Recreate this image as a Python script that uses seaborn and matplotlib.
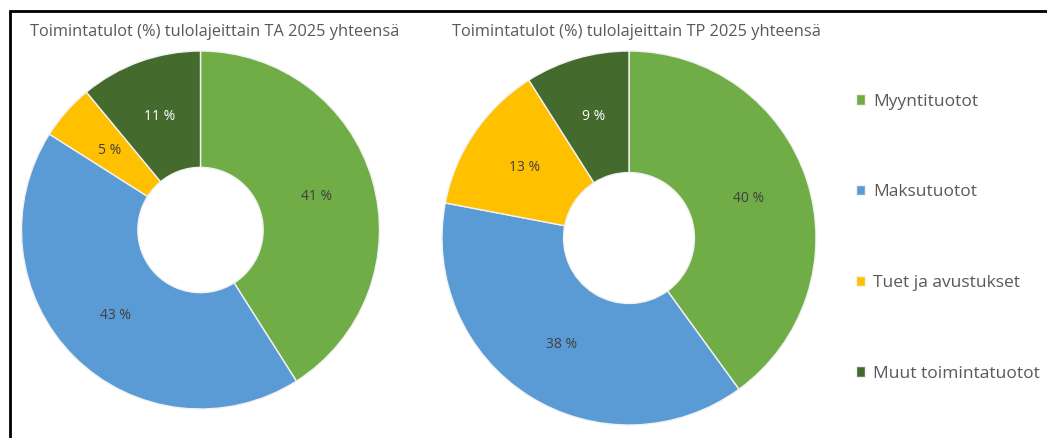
import matplotlib
matplotlib.use("Agg")
import matplotlib.pyplot as plt
import seaborn as sns
from matplotlib.patches import Rectangle

# data
categories = ["Myyntituotot", "Maksutuotot", "Tuet ja avustukset", "Muut toimintatuotot"]
ta_2025 = [41, 43, 5, 11]
tp_2025 = [40, 38, 13, 9]
titles = [
    "Toimintatulot (%) tulolajeittain TA 2025 yhteensä",
    "Toimintatulot (%) tulolajeittain TP 2025 yhteensä",
]

sns.set_theme(style="white")
plt.rcParams["font.family"] = ["Open Sans", "DejaVu Sans"]

colors = sns.color_palette(["#70AD47", "#5B9BD5", "#FFC000", "#446A2D"])
label_colors = ["#404040", "#404040", "#404040", "#ffffff"]

W, H = 1047, 438
fig = plt.figure(figsize=(W / 100, H / 100), dpi=100)


def donut(cx, cy, r, values, title, title_x):
    ax = fig.add_axes([(cx - r) / W, (H - cy - r) / H, 2 * r / W, 2 * r / H])
    wedges, _, autotexts = ax.pie(
        values,
        colors=colors,
        startangle=90,
        counterclock=False,
        autopct=lambda p: f"{p:.0f} %",
        pctdistance=0.675,
        wedgeprops=dict(width=0.65, edgecolor="#f2f2f2", linewidth=1),
        textprops=dict(fontsize=10),
    )
    for t, c in zip(autotexts, label_colors):
        t.set_color(c)
    ax.set_xlim(-1, 1)
    ax.set_ylim(-1, 1)
    ax.set_axis_off()
    fig.text(title_x / W, 1 - 32 / H, title, ha="center", va="center",
             fontsize=11.8, color="#595959")
    return wedges


wedges = donut(200.5, 230, 179, ta_2025, titles[0], 215)
donut(629, 238, 187, tp_2025, titles[1], 636)

# legend
leg = fig.legend(
    wedges, categories,
    loc="upper left", bbox_to_anchor=(840 / W, 1 - 78 / H),
    frameon=False, fontsize=12.5, labelcolor="#595959",
    handlelength=0.55, handleheight=0.55, handletextpad=0.45,
    labelspacing=4.3,
)

# frame around the figure
fig.add_artist(Rectangle((10 / W, -0.1), 1.2, 1 - 11 / H + 0.1,
                         transform=fig.transFigure, fill=False,
                         edgecolor="black", linewidth=2))

fig.savefig("out.png", dpi=100)
